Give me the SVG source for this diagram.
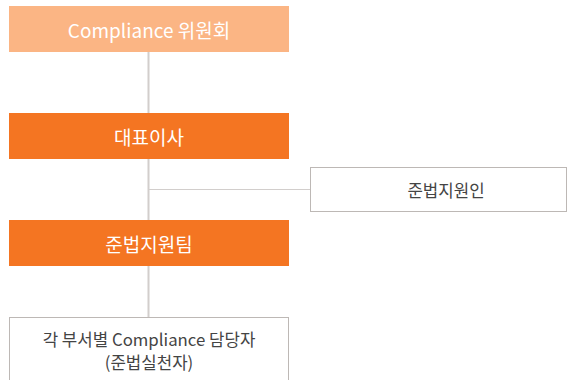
<svg xmlns="http://www.w3.org/2000/svg" width="568" height="380" viewBox="0 0 568 380">
<style>
.t{font-family:"Noto Sans CJK KR","Noto Sans",sans-serif;text-anchor:middle;dominant-baseline:central}
.w{fill:#ffffff;font-size:19px}
.g{fill:#444444;font-size:16.8px}
.box{fill:#ffffff;stroke:#bdb8b5;stroke-width:1}
.line{stroke:#d2cecc;fill:none}
</style>
<rect width="568" height="380" fill="#ffffff"/>
<g id="connectors">
<line class="line" x1="148.5" y1="52" x2="148.5" y2="317" stroke-width="2"/>
<line class="line" x1="148" y1="189.5" x2="310" y2="189.5" stroke-width="1"/>
</g>
<g id="committee">
<rect x="9" y="6" width="280" height="46" fill="#fbb584"/>
<text class="t w" x="149" y="29">Compliance 위원회</text>
</g>
<g id="ceo">
<rect x="9" y="113" width="280" height="46" fill="#f47522"/>
<text class="t w" x="149" y="136">대표이사</text>
</g>
<g id="officer">
<rect class="box" x="310.5" y="167.5" width="256" height="44"/>
<text class="t g" x="446" y="189.5">준법지원인</text>
</g>
<g id="team">
<rect x="9" y="220" width="280" height="46" fill="#f47522"/>
<text class="t w" x="149" y="243">준법지원팀</text>
</g>
<g id="staff">
<rect class="box" x="9.5" y="317.5" width="279" height="80"/>
<text class="t g" x="149" y="339">각 부서별 Compliance 담당자</text>
<text class="t g" x="149" y="362">(준법실천자)</text>
</g>
</svg>
